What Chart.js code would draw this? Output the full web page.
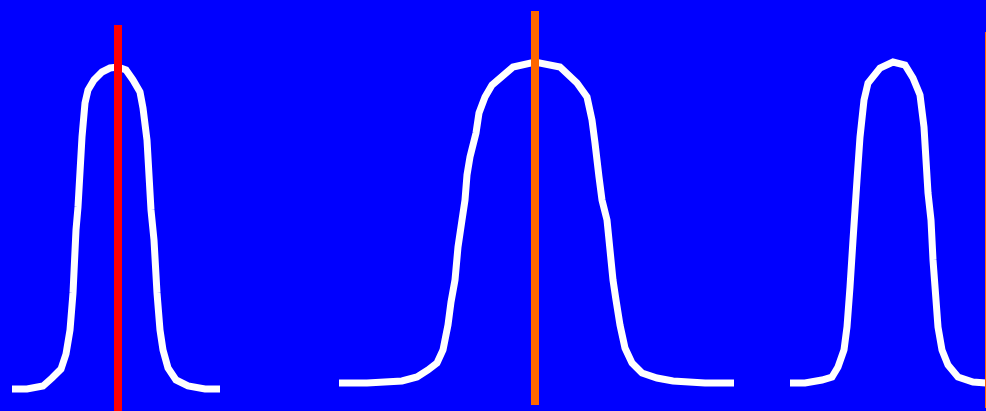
<!DOCTYPE html>
<html>
<head>
<meta charset="utf-8">
<script src="https://cdn.jsdelivr.net/npm/chart.js@4/dist/chart.umd.min.js"></script>
<style>
  html, body { margin: 0; padding: 0; background: #0000ff; overflow: hidden; }
  #wrap { width: 986px; height: 411px; position: relative; }
</style>
</head>
<body>
<div id="wrap"><canvas id="peaks"></canvas></div>
<script>
// three peaks, x position and height
var peak1_x = [12, 27, 43, 52, 61, 66, 70, 73, 76, 78, 82, 85, 88, 94, 102, 110, 118, 126, 133, 140, 143, 147, 151, 154, 157, 160, 163, 168, 176, 188, 205, 220];
var peak1_y = [22, 22, 25, 33, 42, 57, 81, 118, 181, 204, 274, 308, 321, 331, 339, 343, 344, 341, 331, 319, 303, 271, 201, 171, 118, 81, 61, 43, 31, 25, 22, 22];

var peak2_x = [339, 367, 402, 417, 428, 437, 443, 448, 451, 455, 458, 462, 465, 467, 470, 476, 479, 485, 492, 513, 535, 560, 577, 587, 592, 595, 599, 602, 607, 610, 613, 616, 620, 625, 632, 642, 657, 673, 705, 734];
var peak2_y = [28, 28, 30, 34, 41, 48, 61, 86, 109, 131, 164, 191, 211, 236, 254, 278, 298, 314, 326, 344, 349, 344, 328, 314, 291, 268, 234, 211, 191, 161, 131, 111, 86, 63, 48, 38, 33, 30, 28, 28];

var peak3_x = [790, 805, 822, 832, 838, 844, 847, 850, 853, 855, 857, 860, 864, 868, 880, 893, 905, 913, 920, 924, 926, 928, 931, 933, 936, 938, 942, 948, 958, 973, 986, 1000];
var peak3_y = [28, 28, 31, 34, 44, 61, 84, 124, 171, 201, 231, 274, 311, 328, 343, 349, 346, 333, 316, 284, 251, 218, 191, 151, 111, 84, 61, 46, 34, 29, 28, 28];

// marker lines: position, bottom, top
var marker_x = [118, 535, 989];
var marker_lo = [-5, 6, 3];
var marker_hi = [386, 400, 379];
var marker_colors = ['#ff0000', '#ff6600', '#ff6600'];

function pts(xs, ys) {
  var out = [];
  for (var i = 0; i < xs.length; i++) out.push({x: xs[i], y: ys[i]});
  return out;
}

var datasets = [];
[[peak1_x, peak1_y], [peak2_x, peak2_y], [peak3_x, peak3_y]].forEach(function (p) {
  datasets.push({
    data: pts(p[0], p[1]),
    borderColor: '#ffffff',
    borderWidth: 7,
    pointRadius: 0,
    tension: 0,
    order: 2
  });
});
for (var i = 0; i < marker_x.length; i++) {
  datasets.push({
    data: [{x: marker_x[i], y: marker_lo[i]}, {x: marker_x[i], y: marker_hi[i]}],
    borderColor: marker_colors[i],
    borderWidth: 8,
    borderCapStyle: 'butt',
    pointRadius: 0,
    order: 1
  });
}

new Chart(document.getElementById('peaks'), {
  type: 'line',
  data: { datasets: datasets },
  options: {
    responsive: true,
    maintainAspectRatio: false,
    animation: false,
    layout: { padding: 0 },
    plugins: { legend: { display: false }, tooltip: { enabled: false } },
    scales: {
      x: { type: 'linear', min: 0, max: 986, display: false },
      y: { type: 'linear', min: 0, max: 411, display: false }
    }
  }
});
</script>
</body>
</html>
